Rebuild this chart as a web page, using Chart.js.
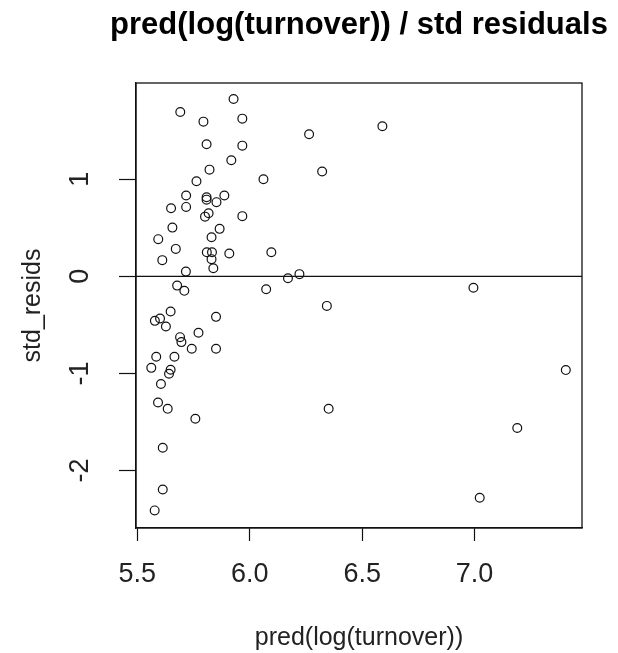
<!DOCTYPE html>
<html>
<head>
<meta charset="utf-8">
<script src="https://cdn.jsdelivr.net/npm/chart.js@4"></script>
<style>
  html, body { margin: 0; padding: 0; background: #ffffff; }
  #wrap { width: 618px; height: 653px; }
</style>
</head>
<body>
<div id="wrap"><canvas id="resid" width="618" height="653"></canvas></div>
<script>
// Fitted values of log(turnover) and the matching standardised residuals
const predX = [5.928, 5.691, 5.794, 5.967, 5.808, 5.967, 5.918, 5.821, 6.061, 5.763,
               5.717, 5.808, 5.808, 5.887, 5.852, 5.650, 5.717, 5.817, 5.801, 5.967,
               5.656, 5.866, 5.593, 5.830, 5.671, 5.809, 5.832, 5.830, 5.611, 5.909,
               6.096, 5.838, 5.716, 5.677, 5.709, 6.073, 5.648, 5.578, 5.601, 5.627,
               5.850, 5.690, 5.696, 5.772, 5.742, 5.850, 5.584, 5.665, 5.562, 5.648,
               5.641, 5.605, 5.592, 5.635, 5.758, 5.613, 5.613, 5.577, 6.264, 6.590,
               6.322, 6.170, 6.221, 6.995, 6.343, 7.406, 6.351, 7.190, 7.023];
const stdResid = [1.827, 1.693, 1.593, 1.624, 1.360, 1.346, 1.196, 1.099, 1.000, 0.980,
                  0.832, 0.815, 0.790, 0.832, 0.764, 0.702, 0.715, 0.650, 0.615, 0.620,
                  0.502, 0.489, 0.383, 0.403, 0.283, 0.249, 0.249, 0.177, 0.167, 0.235,
                  0.249, 0.084, 0.049, -0.095, -0.149, -0.132, -0.362, -0.458, -0.434, -0.517,
                  -0.417, -0.626, -0.677, -0.581, -0.746, -0.746, -0.828, -0.828, -0.942, -0.962,
                  -1.003, -1.109, -1.299, -1.364, -1.466, -1.765, -2.194, -2.410, 1.463, 1.546,
                  1.079, -0.019, 0.023, -0.118, -0.304, -0.965, -1.364, -1.562, -2.280];

// Axis ticks and the horizontal reference level
const xTicks = [5.5, 6.0, 6.5, 7.0];
const yTicks = [-2, -1, 0, 1];
const refLevel = 0;

// Plot window (data range padded by 4% on each side)
const xRange = [5.494, 7.478];
const yRange = [-2.591, 1.991];

const mainTitle = 'pred(log(turnover)) / std residuals';

const points = predX.map((x, i) => ({ x: x, y: stdResid[i] }));
const refLine = [{ x: xRange[0], y: refLevel }, { x: xRange[1], y: refLevel }];

const INK = '#111111';
const FONT = 'Liberation Sans, Arial, sans-serif';

// Closed frame round the plotting region, plus the main title centred over it
const frame = {
  id: 'frame',
  afterDatasetsDraw(chart) {
    const a = chart.chartArea;
    const ctx = chart.ctx;
    ctx.save();
    ctx.strokeStyle = INK;
    ctx.lineWidth = 1.3;
    ctx.strokeRect(a.left, a.top, a.right - a.left, a.bottom - a.top);
    ctx.fillStyle = '#000000';
    ctx.font = 'bold 31px ' + FONT;
    ctx.textAlign = 'center';
    ctx.textBaseline = 'middle';
    ctx.fillText(mainTitle, (a.left + a.right) / 2, 25.5);
    ctx.restore();
  }
};

new Chart(document.getElementById('resid'), {
  data: {
    datasets: [
      {
        type: 'line',
        data: refLine,
        borderColor: INK,
        borderWidth: 1.3,
        pointRadius: 0,
        fill: false
      },
      {
        type: 'scatter',
        data: points,
        pointStyle: 'circle',
        pointRadius: 4.4,
        pointBorderWidth: 1.2,
        borderColor: INK,
        backgroundColor: 'rgba(0,0,0,0)'
      }
    ]
  },
  options: {
    responsive: false,
    animation: false,
    devicePixelRatio: 1,
    layout: { padding: { left: 0, right: 36, top: 83, bottom: 0 } },
    plugins: {
      legend: { display: false },
      tooltip: { enabled: false },
      title: { display: false }
    },
    scales: {
      x: {
        type: 'linear',
        position: 'bottom',
        min: xRange[0],
        max: xRange[1],
        afterBuildTicks(s) { s.ticks = xTicks.map(v => ({ value: v })); },
        afterFit(s) { s.height = 125; },
        grid: { drawOnChartArea: false, drawTicks: true, tickLength: 13, tickColor: INK, tickWidth: 1.2 },
        border: { display: true, color: INK, width: 1.3 },
        ticks: {
          color: '#222222',
          padding: 17,
          maxRotation: 0,
          font: { family: FONT, size: 27 },
          callback: v => v.toFixed(1)
        },
        title: {
          display: true,
          text: 'pred(log(turnover))',
          color: '#222222',
          font: { family: FONT, size: 25, lineHeight: 1 },
          padding: { top: 0, bottom: 2 }
        }
      },
      y: {
        type: 'linear',
        position: 'left',
        min: yRange[0],
        max: yRange[1],
        afterBuildTicks(s) { s.ticks = yTicks.map(v => ({ value: v })); },
        afterFit(s) { s.width = 136; },
        grid: { drawOnChartArea: false, drawTicks: true, tickLength: 17, tickColor: INK, tickWidth: 1.2 },
        border: { display: true, color: INK, width: 1.3 },
        ticks: {
          color: '#222222',
          padding: 26,
          minRotation: 90,
          maxRotation: 90,
          crossAlign: 'center',
          font: { family: FONT, size: 27 },
          callback: v => String(v)
        },
        title: {
          display: true,
          text: 'std_resids',
          color: '#222222',
          font: { family: FONT, size: 25, lineHeight: 1 },
          padding: { top: 21, bottom: 0 }
        }
      }
    }
  },
  plugins: [frame]
});
</script>
</body>
</html>
